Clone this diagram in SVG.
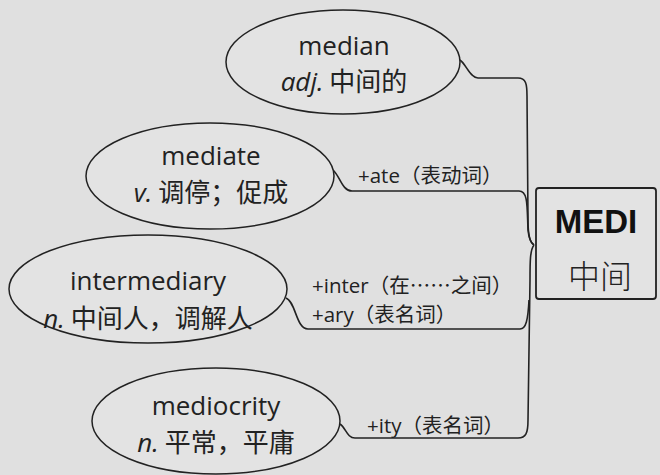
<svg xmlns="http://www.w3.org/2000/svg" width="660" height="475" viewBox="0 0 660 475">
<style>
.bg{fill:#e0e0e0}
.node ellipse{fill:#e3e3e3;stroke:#222;stroke-width:1.5}
.box{fill:#e3e3e3;stroke:#222;stroke-width:1.8}
.w{font-family:"Open Sans","Noto Sans CJK SC",sans-serif;font-size:26px;fill:#222;text-anchor:middle}
.c{font-family:"Noto Sans CJK SC",sans-serif}
.i{font-style:italic}
.lbl{font-family:"Open Sans","Noto Sans CJK SC",sans-serif;font-size:20.5px;fill:#222}
.con path{fill:none;stroke:#222;stroke-width:1.6}
</style>
<rect class="bg" x="0" y="0" width="660" height="475"/>
<g class="con">
<path d="M460,60 C466,64 470,78 478,78 L518,78 C526,78 527,84 527,96 L528,220 C528,236 530,243 534,245"/>
<path d="M333,170 C340,176 342,191 352,191 L519,191 C528,191 527,205 528,230 C529,240 531,243 534,245"/>
<path d="M534,245 C530,250 530,262 530,280 L528,420 C528,433 526,438 518,438 L355,438 C347,438 346,428 340,424"/>
<path d="M286,298 C296,302 296,329 308,329 L520,329 C526,329 528,320 529,300"/>
</g>
<g id="median" class="node">
<ellipse cx="343" cy="62" rx="117" ry="52"/>
<text class="w" x="344" y="55">median</text>
<text class="w" x="344" y="91"><tspan class="i">adj.</tspan><tspan class="c"> 中间的</tspan></text>
</g>
<g id="mediate" class="node">
<ellipse cx="210" cy="176" rx="124" ry="53"/>
<text class="w" x="211" y="165">mediate</text>
<text class="w" x="211" y="202"><tspan class="i">v.</tspan><tspan class="c"> 调停；促成</tspan></text>
</g>
<g id="intermediary" class="node">
<ellipse cx="148" cy="289" rx="139" ry="54"/>
<text class="w" x="148" y="290">intermediary</text>
<text class="w" x="148" y="328"><tspan class="i">n.</tspan><tspan class="c"> 中间人，调解人</tspan></text>
</g>
<g id="mediocrity" class="node">
<ellipse cx="216" cy="421" rx="124" ry="53"/>
<text class="w" x="216" y="415">mediocrity</text>
<text class="w" x="216" y="452"><tspan class="i">n.</tspan><tspan class="c"> 平常，平庸</tspan></text>
</g>
<g id="labels">
<text class="lbl" x="358" y="183">+ate<tspan class="c">（表动词）</tspan></text>
<text class="lbl" x="312" y="293">+inter<tspan class="c">（在……之间）</tspan></text>
<text class="lbl" x="312" y="322">+ary<tspan class="c">（表名词）</tspan></text>
<text class="lbl" x="367" y="433">+ity<tspan class="c">（表名词）</tspan></text>
</g>
<g id="MEDI">
<rect class="box" x="536" y="188" width="120" height="111" rx="3"/>
<text x="596" y="233" style="font-family:'Liberation Sans',Arial,sans-serif;font-weight:bold;font-size:33px;fill:#111;text-anchor:middle">MEDI</text>
<text x="600" y="288" style="font-family:'Noto Sans CJK SC',sans-serif;font-weight:300;font-size:32px;fill:#222;text-anchor:middle">中间</text>
</g>
</svg>
